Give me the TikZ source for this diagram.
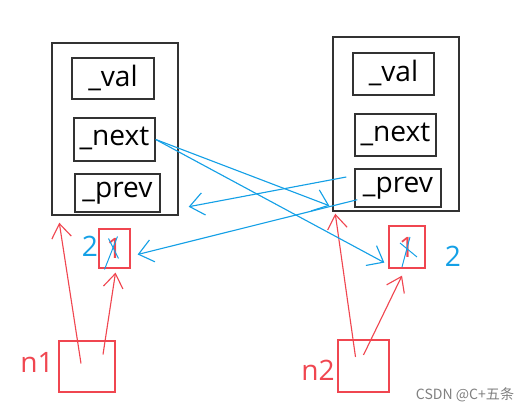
\documentclass[tikz,border=0pt]{standalone}
\usepackage{fontspec}
\setmainfont{Open Sans}
\newfontfamily\cjk{Noto Sans CJK SC}
\usetikzlibrary{arrows.meta}
\definecolor{penred}{RGB}{240,70,80}
\definecolor{penblue}{RGB}{20,160,230}
\definecolor{boxgray}{RGB}{50,50,50}

\begin{document}
\begin{tikzpicture}[
    x=0.025cm, y=-0.025cm,
    outer/.style={draw=boxgray, line width=1pt, minimum width=3.15cm, minimum height=4.3cm},
    field/.style={draw=boxgray, line width=1pt, minimum height=1.05cm, inner sep=0pt,
                  text depth=0.15cm, font=\fontsize{20}{20}\selectfont},
    redbox/.style={draw=penred, line width=0.9pt, inner sep=0pt},
    penlabel/.style={font=\fontsize{20}{20}\selectfont},
    redline/.style={penred, line width=0.8pt, -{Straight Barb[length=10pt,width=14pt]}},
    blueline/.style={penblue, line width=0.8pt, -{Straight Barb[length=10pt,width=16pt]}},
    cross/.style={penblue, line width=0.7pt},
]
  \useasboundingbox (0,0) rectangle (528,411);

  % left node
  \node[outer] (lnode) at (115,129) {};
  \node[field, minimum width=2.05cm, minimum height=1.025cm] (lval) at (113,78.5) {\_val};
  \node[field, minimum width=2.025cm, minimum height=1.075cm] (lnext) at (114.5,139.5) {\_next};
  \node[field, minimum width=2.125cm, minimum height=0.95cm] (lprev) at (117.5,193) {\_prev};

  % right node
  \node[outer, minimum height=4.35cm] (rnode) at (396,124) {};
  \node[field, minimum width=2.025cm] (rval) at (393.5,74) {\_val};
  \node[field, minimum width=2.025cm] (rnext) at (395.5,135) {\_next};
  \node[field, minimum width=2.15cm, minimum height=0.95cm] (rprev) at (398,188) {\_prev};

  % counters
  \node[redbox, minimum width=0.775cm, minimum height=0.975cm, penlabel, text=penred] (lone) at (114.5,248.5) {1};
  \node[redbox, minimum width=0.9cm, minimum height=1.05cm, penlabel, text=penred] (rone) at (407,247) {1};
  \node[penlabel, text=penblue] (ltwo) at (90,246) {2};
  \node[penlabel, text=penblue] (rtwo) at (453,256) {2};
  \draw[cross] ([shift={(-6,-10)}]lone.center) -- ([shift={(4,10)}]lone.center);
  \draw[cross] ([shift={(3,-12)}]lone.center) -- ([shift={(-10,21)}]lone.center);
  \draw[cross] ([shift={(3,-10)}]rone.center) -- ([shift={(-5,20)}]rone.center);
  \draw[cross] ([shift={(-7,-4)}]rone.center) -- ([shift={(10,10)}]rone.center);

  % pointers
  \node[redbox, minimum width=1.4cm, minimum height=1.275cm] (n1box) at (87,366.5) {};
  \node[redbox, minimum width=1.275cm, minimum height=1.3cm] (n2box) at (363.5,366) {};
  \node[penlabel, text=penred] (n1) at (37,362) {n1};
  \node[penlabel, text=penred] (n2) at (318,370) {n2};

  \draw[redline] ([shift={(-6,-3)}]n1box.center) -- ([shift={(8,7)}]lnode.south west);
  \draw[redline] ([shift={(16,-12)}]n1box.center) -- ([shift={(1,4)}]lone.south);
  \draw[redline] ([shift={(-8,-9)}]n2box.center) -- ([shift={(3,2)}]rnode.south west);
  \draw[redline] ([shift={(0,-11)}]n2box.center) -- ([shift={(-5,7)}]rone.south);

  \draw[blueline] (lnext.east) -- ([shift={(-3,-6)}]rnode.south west);
  \draw[blueline] (lnext.east) -- ([shift={(-4,-6)}]rone.south west);
  \draw[blueline] ([shift={(-8,-11)}]rprev.west) -- ([shift={(10,-9)}]lnode.south east);
  \draw[blueline] ([shift={(3,-8)}]rprev.south west) -- ([shift={(7,6)}]lone.east);

  \node[text=gray, font=\cjk\fontsize{10}{10}\selectfont] (mark) at (465,395) {CSDN @C+五条};
\end{tikzpicture}
\end{document}
